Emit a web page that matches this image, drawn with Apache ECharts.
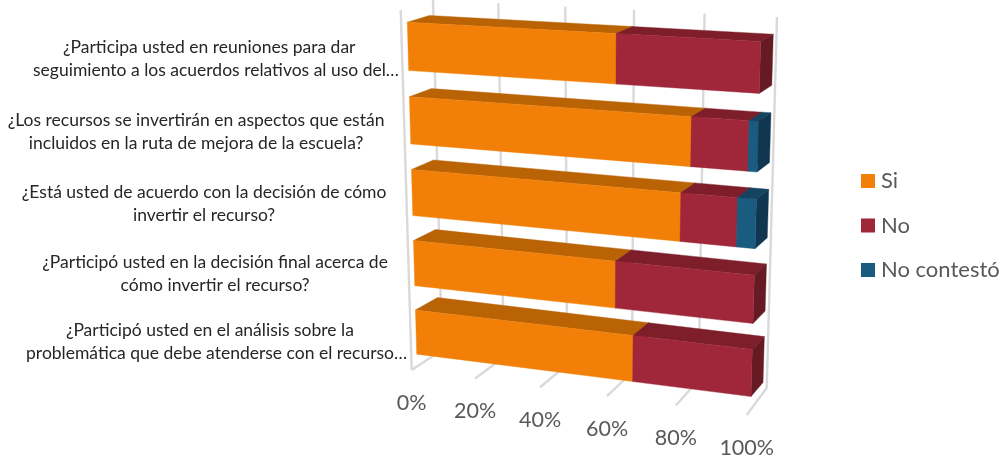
<!DOCTYPE html>
<html>
<head>
<meta charset="utf-8">
<style>html,body{margin:0;padding:0;background:#fff}#c{width:1001px;height:461px}</style>
<script src="https://cdn.jsdelivr.net/npm/echarts@6/dist/echarts.min.js"></script>
</head>
<body>
<div id="c"></div>
<script>
// ---- data ----
const categories = [
  '¿Participa usted en reuniones para dar   \nseguimiento a los acuerdos relativos al uso del…',
  '¿Los recursos se invertirán en aspectos que están\nincluidos en la ruta de mejora de la escuela?',
  '¿Está usted de acuerdo con la decisión de cómo\ninvertir el recurso?',
  '¿Participó usted en la decisión final acerca de\ncómo invertir el recurso?',
  '¿Participó usted en el análisis sobre la   \nproblemática que debe atenderse con el recurso…'
];
const si = [60.9, 81.9, 79.3, 61, 66.2];
const no = [39.1, 15.6, 15.6, 39, 33.8];
const noContesto = [0, 2.5, 5.1, 0, 0];
const ticks = [0, 20, 40, 60, 80, 100];
const tickLabels = ['0%', '20%', '40%', '60%', '80%', '100%'];
const seriesNames = ['Si', 'No', 'No contestó'];

// ---- view (3-D look of the plot) ----
const FONT = 'Lato';
const shades = [
  {front: '#F28008', top: '#B96304', side: '#9c5304'},
  {front: '#A0273A', top: '#7D1E2A', side: '#661A24'},
  {front: '#1A5B80', top: '#144460', side: '#113650'}
];
function homography(q) { // corners TL, TR, BR, BL -> unit square mapping
  const [[x0,y0],[x1,y1],[x2,y2],[x3,y3]] = q;
  const sx=x0-x1+x2-x3, sy=y0-y1+y2-y3, dx1=x1-x2, dx2=x3-x2, dy1=y1-y2, dy2=y3-y2;
  const den=dx1*dy2-dx2*dy1, g=(sx*dy2-dx2*sy)/den, h=(dx1*sy-sx*dy1)/den;
  const a=x1-x0+g*x1, b=x3-x0+h*x3, d=y1-y0+g*y1, e=y3-y0+h*y3;
  return (u,v)=>{const w=g*u+h*v+1; return [(a*u+b*v+x0)/w,(d*u+e*v+y0)/w];};
}
const barFront = homography([[407.3,22],[760.7,41.3],[751,396.7],[416.7,354.3]]);
const barBack  = homography([[429.3,15.3],[773.3,34],[763,382.7],[438.7,340.8]]);
const wallBack = homography([[433,0],[777,17],[766.7,388],[442,350]]);
const wallFront= homography([[400.7,10],[755,30],[746.7,415],[411.7,370]]);
const V_SCALE = 1.075, V_SHIFT = 0.0375, BAR_FRACTION = 0.647;
const toV = v => v * V_SCALE - V_SHIFT;
const labelInset = [192, 214, 208, 199, 199.5];

function norm(params, api, val, cat) {
  const p = api.coord([val, cat]), cs = params.coordSys;
  return [(p[0]-cs.x)/cs.width, (p[1]-cs.y)/cs.height];
}
function poly(points, fill) {
  return {type:'polygon', shape:{points}, style:{fill, stroke:fill, lineWidth:0.4}};
}
function renderSegment(color) {
  return function(params, api) {
    const start=api.value(0), end=api.value(1), cat=api.value(2);
    if (end-start<=0) return null;
    const cs=params.coordSys;
    const half=api.size([0,1])[1]*BAR_FRACTION/2/cs.height;
    const a=norm(params,api,start,cat), b=norm(params,api,end,cat);
    const vt=toV(a[1]-half), vb=toV(a[1]+half);
    const F=barFront, B=barBack, u0=a[0], u1=b[0];
    return {type:'group',children:[
      poly([F(u0,vt),F(u1,vt),B(u1,vt),B(u0,vt)],color.top),
      poly([F(u1,vt),B(u1,vt),B(u1,vb),F(u1,vb)],color.side),
      poly([F(u0,vt),F(u1,vt),F(u1,vb),F(u0,vb)],color.front)
    ]};
  };
}
function renderTick(params, api) {
  const val=api.value(0), idx=params.dataIndex;
  const u=norm(params,api,val,0)[0];
  const tb=wallBack(u,0), bb=wallBack(u,1), bf=wallFront(u,1);
  const line=(p,q)=>({type:'line',shape:{x1:p[0],y1:p[1],x2:q[0],y2:q[1]},style:{stroke:'#D9D9D9',lineWidth:2.4}});
  const kids=[line(tb,bb),line(bb,bf)];
  if (idx===0) kids.push(line(wallFront(0,0),wallFront(0,1)));
  kids.push({type:'text',style:{text:tickLabels[idx],x:bf[0],y:bf[1]+33,align:'center',verticalAlign:'middle',fontFamily:FONT,fontSize:21.5,fill:'#595959'}});
  return {type:'group',children:kids};
}
function renderLabel(params, api) {
  const cat=api.value(0), i=params.dataIndex;
  const v=norm(params,api,0,cat)[1];
  const p=barFront(0,toV(v));
  return {type:'text',style:{text:categories[i],x:p[0]-labelInset[i],y:p[1]+12-i*0.55,align:'center',verticalAlign:'middle',fontFamily:FONT,fontSize:17.5,lineHeight:23,fill:'#262626'}};
}

const segments=[si,no,noContesto].map((vals,s)=>vals.map((v,i)=>{
  const start=[si,no,noContesto].slice(0,s).reduce((t,arr)=>t+arr[i],0);
  return [start,start+v,i];
}));

const chart=echarts.init(document.getElementById('c'),null,{renderer:'canvas'});
chart.setOption({
  animation:false,
  backgroundColor:'#fff',
  grid:{left:0,top:0,width:1000,height:460},
  xAxis:{type:'value',min:0,max:100,interval:20,show:false},
  yAxis:{type:'category',inverse:true,data:categories,show:false},
  legend:{orient:'vertical',left:856,top:165,itemWidth:14,itemHeight:14,itemGap:22.5,icon:'rect',
    data:seriesNames,selectedMode:false,textStyle:{fontFamily:FONT,fontSize:22,color:'#595959',padding:[0,0,0,1]}},
  series:[
    {type:'custom',silent:true,clip:false,z:1,data:ticks.map(t=>[t]),encode:{x:0},renderItem:renderTick},
    {type:'custom',silent:true,clip:false,z:1,data:categories.map((c,i)=>[i]),encode:{y:0},renderItem:renderLabel},
    ...seriesNames.map((n,s)=>({type:'custom',name:n,clip:false,z:2+s,silent:true,
      itemStyle:{color:shades[s].front},data:segments[s],encode:{x:[0,1],y:2},renderItem:renderSegment(shades[s])}))
  ]
});
</script>
</body>
</html>
